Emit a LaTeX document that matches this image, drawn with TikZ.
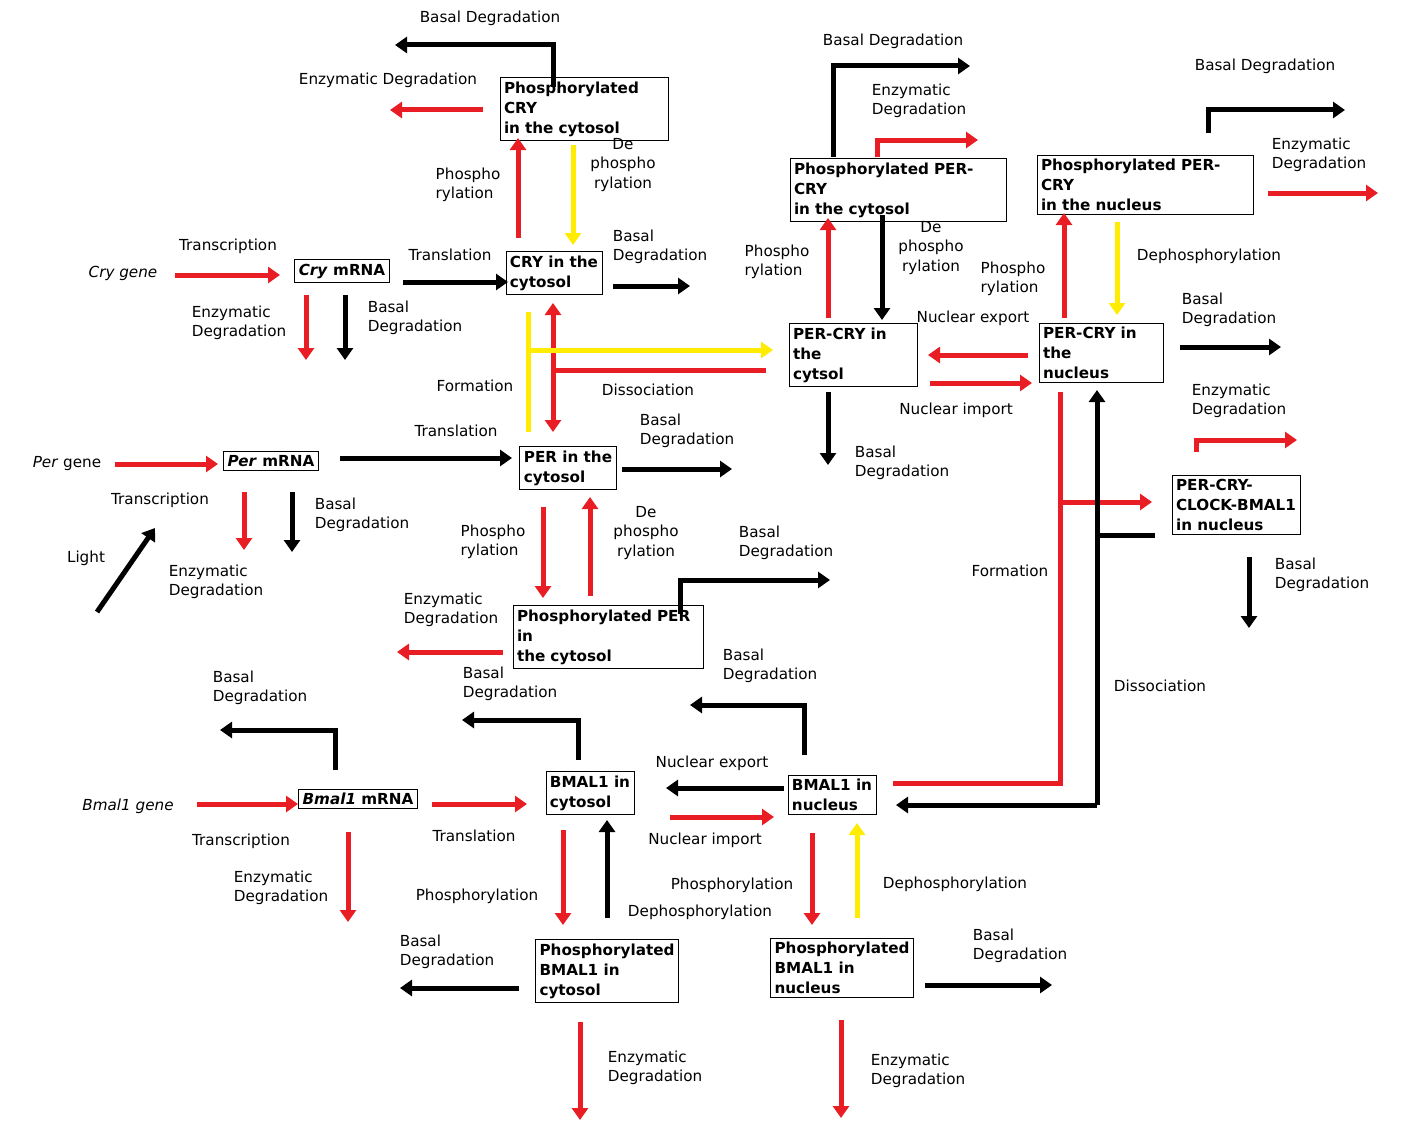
\documentclass[tikz,border=0pt]{standalone}
\usepackage{fontspec}
\setmainfont{DejaVu Sans}
\usetikzlibrary{arrows.meta}
\definecolor{rd}{RGB}{232,30,36}
\definecolor{yl}{RGB}{255,236,0}
\tikzset{
 ar/.style={line width=2.5pt,-{Triangle[length=6pt,width=8pt]}},
 ln/.style={line width=2.5pt},
 bk/.style={black},
 re/.style={rd},
 ye/.style={yl},
 lab/.style={font=\fontsize{7.6}{9.6}\selectfont,align=left,inner sep=0pt},
 box/.style={draw,thin,font=\fontsize{7.6}{10}\selectfont\bfseries,align=left,inner sep=2pt,fill=white},
}
\begin{document}
\begin{tikzpicture}[x=0.5pt,y=-0.5pt]
\useasboundingbox (0,0) rectangle (1407,1145);
% boxes
\node[box,text width=80pt] (pcry) at (584,109) {Phosphorylated CRY\\in the cytosol};
\node[box] (crycyt) at (554,273) {CRY in the\\cytosol};
\node[box] (crym) at (342,271) {\textit{Cry} mRNA};
\node[box,text width=104pt] (ppcc) at (898,190) {Phosphorylated PER-CRY\\in the cytosol};
\node[box,text width=104pt] (ppcn) at (1145,185) {Phosphorylated PER-CRY\\in the nucleus};
\node[box,text width=60pt] (pcc) at (853,355) {PER-CRY in the\\cytsol};
\node[box,text width=58pt] (pcn) at (1101,353) {PER-CRY in the\\nucleus};
\node[box] (percyt) at (568,468) {PER in the\\cytosol};
\node[box] (perm) at (271,461) {\textit{Per} mRNA};
\node[box] (pccb) at (1236,505) {PER-CRY-\\CLOCK-BMAL1\\in nucleus};
\node[box,text width=91pt] (pper) at (608,637) {Phosphorylated PER in\\the cytosol};
\node[box] (bm) at (358,799) {\textit{Bmal1} mRNA};
\node[box] (bcyt) at (590,793) {BMAL1 in\\cytosol};
\node[box] (bnuc) at (832,795) {BMAL1 in\\nucleus};
\node[box] (pbc) at (607,971) {Phosphorylated\\BMAL1 in\\cytosol};
\node[box] (pbn) at (842,968) {Phosphorylated\\BMAL1 in\\nucleus};
% genes
\node[lab] (cryg) at (123,273) {\textit{Cry gene}};
\node[lab] (perg) at (67,464) {\textit{Per} gene};
\node[lab] (bg) at (128,806) {\textit{Bmal1 gene}};
\node[lab] (light) at (86,558) {Light};
% CRY area
\draw[ar,bk] (553,87) -- (553,45) -- (395,45);
\node[lab] at (490,18) {Basal Degradation};
\draw[ar,re] (483,110) -- (390,110);
\node[lab] at (388,80) {Enzymatic Degradation};
\draw[ar,re] (518,238) -- (518,138);
\node[lab] at (468,185) {Phospho\\rylation};
\draw[ar,ye] (573,145) -- (573,245);
\node[lab,align=center] at (623,165) {De\\phospho\\rylation};
\draw[ar,re] (175,275) -- (280,275);
\node[lab] at (228,246) {Transcription};
\draw[ar,re] (306,295) -- (306,360);
\draw[ar,bk] (345,295) -- (345,360);
\node[lab] at (239,323) {Enzymatic\\Degradation};
\node[lab] at (415,318) {Basal\\Degradation};
\draw[ar,bk] (403,282) -- (508,282);
\node[lab] at (450,255) {Translation};
\draw[ar,bk] (613,286) -- (690,286);
\node[lab] at (660,247) {Basal\\Degradation};
\draw[ar,re,{Triangle[length=6pt,width=8pt]}-{Triangle[length=6pt,width=8pt]}] (553,303) -- (553,432);
\draw[ln,ye] (528,312) -- (528,432);
\draw[ar,ye] (528,350) -- (773,350);
\node[lab] at (475,386) {Formation};
\draw[ln,re] (766,370) -- (553,370);
\node[lab] at (648,390) {Dissociation};
% PER area
\draw[ar,re] (115,464) -- (218,464);
\node[lab] at (160,500) {Transcription};
\draw[ar,bk] (97,612) -- (155,528);
\draw[ar,re] (244,492) -- (244,550);
\draw[ar,bk] (292,492) -- (292,552);
\node[lab] at (216,582) {Enzymatic\\Degradation};
\node[lab] at (362,515) {Basal\\Degradation};
\draw[ar,bk] (340,458) -- (512,458);
\node[lab] at (456,431) {Translation};
\draw[ar,bk] (622,469) -- (732,469);
\node[lab] at (687,431) {Basal\\Degradation};
\draw[ar,re] (543,507) -- (543,598);
\draw[ar,re] (590,596) -- (590,497);
\node[lab] at (493,542) {Phospho\\rylation};
\node[lab,align=center] at (646,533) {De\\phospho\\rylation};
\draw[ar,bk] (680,614) -- (680,580) -- (830,580);
\node[lab] at (786,543) {Basal\\Degradation};
\draw[ar,re] (503,652) -- (397,652);
\node[lab] at (451,610) {Enzymatic\\Degradation};
% PER-CRY cytosol
\draw[ar,bk] (833,157) -- (833,66) -- (970,66);
\node[lab] at (893,41) {Basal Degradation};
\draw[ar,re] (877,157) -- (877,140) -- (978,140);
\node[lab] at (919,101) {Enzymatic\\Degradation};
\draw[ar,re] (828,318) -- (828,218);
\node[lab] at (777,262) {Phospho\\rylation};
\draw[ar,bk] (882,215) -- (882,320);
\node[lab,align=center] at (931,248) {De\\phospho\\rylation};
\draw[ar,re] (1028,355) -- (928,355);
\node[lab] at (973,318) {Nuclear export};
\draw[ar,re] (930,383) -- (1032,383);
\node[lab] at (956,410) {Nuclear import};
\draw[ar,bk] (828,392) -- (828,465);
\node[lab] at (902,463) {Basal\\Degradation};
% PER-CRY nucleus
\draw[ar,re] (1064,318) -- (1064,213);
\node[lab] at (1013,279) {Phospho\\rylation};
\draw[ar,ye] (1117,222) -- (1117,315);
\node[lab] at (1209,256) {Dephosphorylation};
\draw[ar,bk] (1208,133) -- (1208,110) -- (1345,110);
\node[lab] at (1265,66) {Basal Degradation};
\draw[ar,re] (1268,193) -- (1378,193);
\node[lab] at (1319,155) {Enzymatic\\Degradation};
\draw[ar,bk] (1180,347) -- (1281,347);
\node[lab] at (1229,310) {Basal\\Degradation};
\draw[ar,re] (1196,452) -- (1196,440) -- (1297,440);
\node[lab] at (1239,401) {Enzymatic\\Degradation};
\draw[ar,bk] (1249,557) -- (1249,628);
\node[lab] at (1322,575) {Basal\\Degradation};
% formation / dissociation
\draw[ln,re] (893,783) -- (1060,783) -- (1060,392);
\draw[ar,re] (1060,502) -- (1152,502);
\node[lab] at (1010,571) {Formation};
\draw[ln,bk] (1155,535) -- (1097,535);
\draw[ar,bk] (1097,805) -- (1097,390);
\draw[ar,bk] (1097,805) -- (896,805);
\node[lab] at (1160,686) {Dissociation};
% BMAL1
\draw[ar,bk] (804,755) -- (804,705) -- (690,705);
\node[lab] at (770,666) {Basal\\Degradation};
\draw[ar,bk] (784,788) -- (666,788);
\node[lab] at (712,763) {Nuclear export};
\draw[ar,re] (670,817) -- (774,817);
\node[lab] at (705,840) {Nuclear import};
\draw[ar,bk] (578,760) -- (578,720) -- (462,720);
\node[lab] at (510,684) {Basal\\Degradation};
\draw[ar,bk] (335,770) -- (335,730) -- (220,730);
\node[lab] at (260,688) {Basal\\Degradation};
\draw[ar,re] (197,804) -- (298,804);
\node[lab] at (241,841) {Transcription};
\draw[ar,re] (432,804) -- (527,804);
\node[lab] at (474,836) {Translation};
\draw[ar,re] (348,832) -- (348,922);
\node[lab] at (281,888) {Enzymatic\\Degradation};
\draw[ar,re] (563,830) -- (563,925);
\node[lab] at (477,896) {Phosphorylation};
\draw[ar,bk] (607,918) -- (607,820);
\node[lab] at (700,912) {Dephosphorylation};
\draw[ar,bk] (519,988) -- (400,988);
\node[lab] at (447,952) {Basal\\Degradation};
\draw[ar,re] (580,1022) -- (580,1120);
\node[lab] at (655,1068) {Enzymatic\\Degradation};
\draw[ar,re] (812,833) -- (812,925);
\node[lab] at (732,885) {Phosphorylation};
\draw[ar,ye] (857,918) -- (857,823);
\node[lab] at (955,884) {Dephosphorylation};
\draw[ar,bk] (925,985) -- (1052,985);
\node[lab] at (1020,946) {Basal\\Degradation};
\draw[ar,re] (841,1020) -- (841,1118);
\node[lab] at (918,1071) {Enzymatic\\Degradation};
\end{tikzpicture}
\end{document}
